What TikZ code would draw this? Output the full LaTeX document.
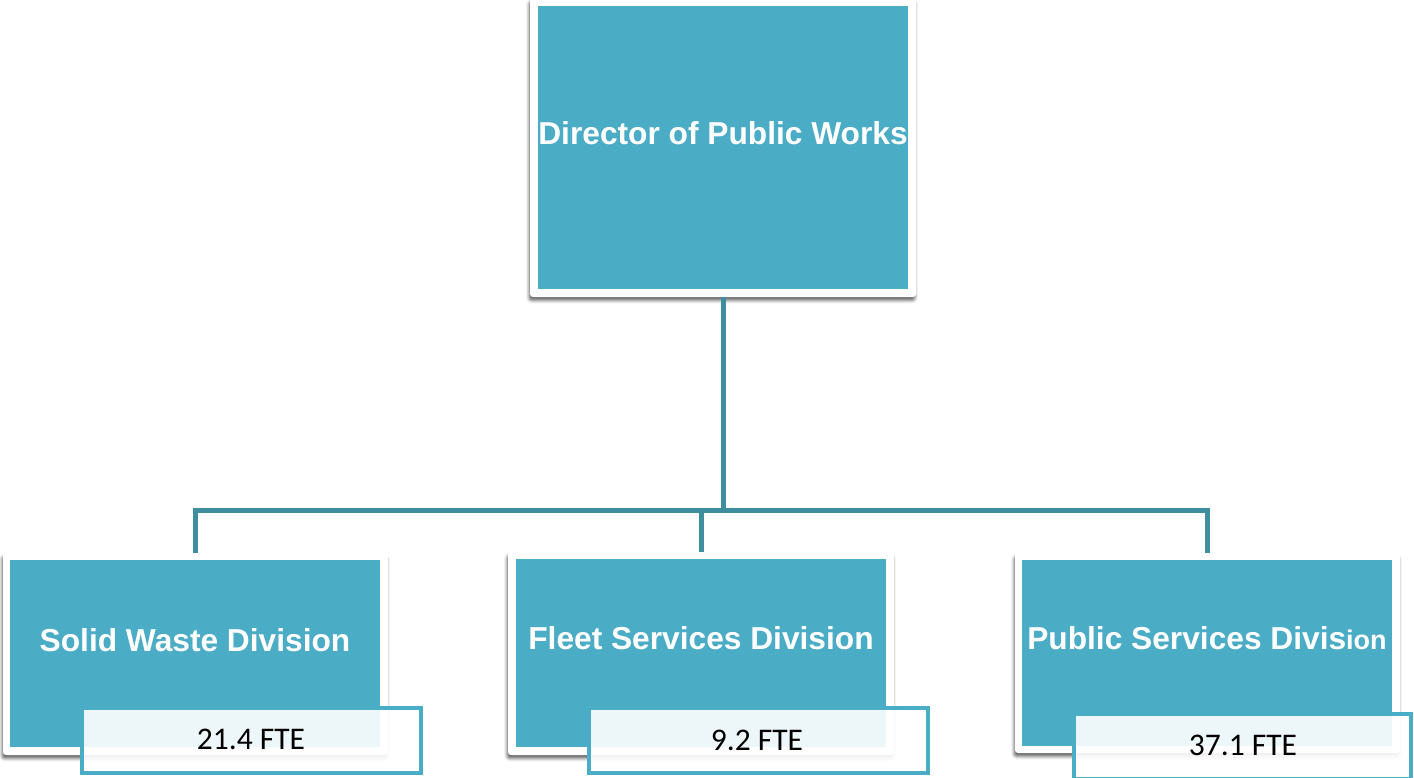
\documentclass[tikz,border=0pt]{standalone}
\usepackage{fontspec}
\setmainfont{Liberation Sans}
\newfontfamily\calibri{Carlito}
\usetikzlibrary{shadows.blur}
\definecolor{teal1}{HTML}{4BACC6}
\definecolor{conncol}{HTML}{3F8EA0}
\begin{document}
\begin{tikzpicture}[x=1pt,y=-1pt,
  outerbox/.style={fill=white, rounded corners=3pt, inner sep=0pt,
    blur shadow={shadow xshift=-1pt, shadow yshift=-3.5pt, shadow blur radius=3pt, shadow opacity=60}},
  innerbox/.style={fill=teal1, inner sep=0pt},
  boxtext/.style={text=white, font=\bfseries\fontsize{31.7}{38}\selectfont, inner sep=0pt},
  ftebox/.style={draw=teal1, line width=4pt, fill=white, fill opacity=0.9, text opacity=1, inner sep=0pt,
    minimum width=339pt, minimum height=65pt},
  ftetext/.style={text=black, font=\calibri\fontsize{31.5}{36}\selectfont, inner sep=0pt},
  conn/.style={draw=conncol, line width=5pt}]
\useasboundingbox (0,0) rectangle (1414,778);
\coordinate (bus) at (723,510);
% boxes (frames)
\node[outerbox, minimum width=386pt, minimum height=299pt] (dirF) at (723,147.5) {};
\node[outerbox, minimum width=385pt, minimum height=202pt] (swF) at (195.5,654) {};
\node[outerbox, minimum width=386pt, minimum height=203pt] (fsF) at (701,653.5) {};
\node[outerbox, minimum width=385pt, minimum height=200pt] (psF) at (1207.5,653) {};
% connectors
\draw[conn] (dirF.south) -- (bus);
\draw[conn] (swF.north) -- (swF.north |- bus) -- (psF.north |- bus) -- (psF.north);
\draw[conn] (fsF.north) -- (fsF.north |- bus);
% inner teal boxes
\node[innerbox, minimum width=370pt, minimum height=283pt] (dir) at (723,147.5) {};
\node[innerbox, minimum width=370pt, minimum height=187pt] (sw) at (195,653.5) {};
\node[innerbox, minimum width=370pt, minimum height=188pt] (fs) at (701,653) {};
\node[innerbox, minimum width=370pt, minimum height=186pt] (ps) at (1207,653) {};
% texts
\node[boxtext] (dirT) at (723,133) {Director of Public Works};
\node[boxtext] (swT) at (195,640) {Solid Waste Division};
\node[boxtext] (fsT) at (701,638) {Fleet Services Division};
\node[boxtext] (psT) at (1207,638) {Public Services Divis{\fontsize{27}{32}\selectfont ion}};
% FTE boxes
\node[ftebox] (swE) at (251.5,740.5) {};
\node[ftetext] (swET) at (251,739) {21.4 FTE};
\node[ftebox] (fsE) at (758,740.5) {};
\node[ftetext] (fsET) at (757,740) {9.2 FTE};
\node[ftebox, minimum width=337pt] (psE) at (1242.5,746) {};
\node[ftetext] (psET) at (1243,745) {37.1 FTE};
\end{tikzpicture}
\end{document}
